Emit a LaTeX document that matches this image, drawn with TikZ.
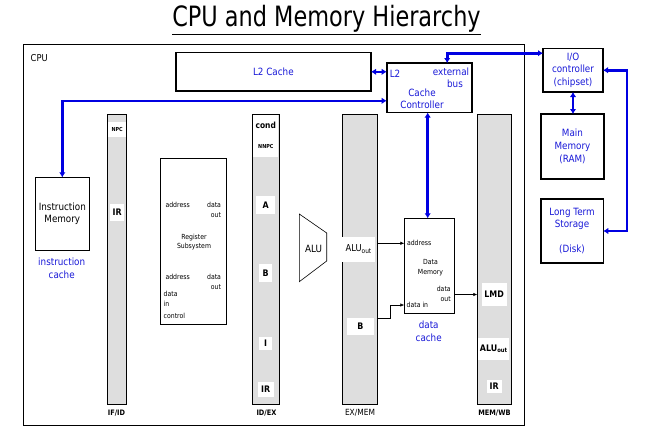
\documentclass[tikz,border=0pt]{standalone}
\usepackage{fontspec}
\setmainfont[FakeStretch=0.88]{DejaVu Sans}
\newfontfamily\titlefont[FakeStretch=0.8]{DejaVu Sans}
\usetikzlibrary{positioning, arrows.meta, calc}
\definecolor{BusBlue}{RGB}{0,0,225}
\definecolor{LabelBlue}{RGB}{25,25,215}
\definecolor{RegGray}{RGB}{222,222,222}

\begin{document}
\begin{tikzpicture}[x=1pt, y=-1pt,
  every node/.style={inner sep=0pt, outer sep=0pt},
  bigbox/.style={draw, line width=1.6pt},
  thinbox/.style={draw, line width=0.7pt},
  pipereg/.style={draw, line width=0.6pt, fill=RegGray, minimum width=#1, minimum height=290pt},
  slot/.style={fill=white},
  bus/.style={draw=BusBlue, line width=2.6pt, {Latex[length=5pt,width=6.5pt]}-{Latex[length=5pt,width=6.5pt]}},
  wire/.style={line width=0.6pt, -{Latex[length=4pt,width=3.5pt]}},
  bluetxt/.style={text=LabelBlue, font=\fontsize{10}{12.7}\selectfont, align=center},
  smalltxt/.style={font=\fontsize{7}{9.5}\selectfont},
  regname/.style={font=\fontsize{9}{10}\selectfont\bfseries},
  tinyname/.style={font=\fontsize{5.5}{6}\selectfont\bfseries},
  stagetxt/.style={font=\fontsize{7.5}{8}\selectfont\bfseries}
]
\useasboundingbox (0,0) rectangle (649,431);

% title
\node[anchor=base, font=\titlefont\fontsize{28}{30}\selectfont] (title) at (326.5,27) {\underline{CPU and Memory Hierarchy}};

% CPU frame
\node[draw, line width=0.8pt, minimum width=500.7pt, minimum height=381pt] (cpu) at (273.7,234.5) {};
\node[anchor=west, font=\fontsize{9.5}{10}\selectfont] (cpulbl) at (30.7,58.5) {CPU};

% caches and controllers
\node[bigbox, minimum width=195.3pt, minimum height=38.5pt, bluetxt] (l2) at (273.4,71.8) {L2 Cache};
\node[bigbox, minimum width=85pt, minimum height=49.5pt] (cc) at (429.2,87.8) {};
\node[bluetxt] (ccl2) at (395,73.3) {L2};
\node[bluetxt] (ccext) at (451,72) {external};
\node[bluetxt] (ccbus) at (455,84) {bus};
\node[bluetxt] (ccname) at (422,98.8) {Cache\\Controller};

% outside the CPU
\node[bigbox, minimum width=60pt, minimum height=43.7pt, bluetxt] (io) at (573,70.2) {I/O\\controller\\(chipset)};
\node[bigbox, minimum width=63pt, minimum height=65pt, bluetxt] (mm) at (572.5,146.5) {Main\\Memory\\(RAM)};
\node[bigbox, minimum width=62.6pt, minimum height=64pt, bluetxt] (lts) at (572,231) {Long Term\\Storage\\[12.5pt](Disk)};

% instruction memory
\node[thinbox, minimum width=54pt, minimum height=72.7pt, align=center, font=\fontsize{10}{12}\selectfont] (imem) at (62.3,213.7) {Instruction\\Memory};
\node[bluetxt] (icache) at (61.7,268.3) {instruction\\cache};

% pipeline registers
\node[pipereg=19.2pt] (ifid) at (117.1,259) {};
\node[pipereg=27pt] (idex) at (265.8,259) {};
\node[pipereg=35pt] (exmem) at (359.8,259) {};
\node[pipereg=34.4pt] (memwb) at (494.5,259) {};
\node[stagetxt] (ifidlbl) at (116.5,412.7) {IF/ID};
\node[stagetxt] (idexlbl) at (266.5,412.7) {ID/EX};
\node[font=\fontsize{8.5}{9}\selectfont] (exmemlbl) at (360,412.7) {EX/MEM};
\node[stagetxt] (memwblbl) at (494.5,412.7) {MEM/WB};

% IF/ID fields
\node[slot, tinyname, minimum width=18pt, minimum height=15pt] (npc) at (117.1,129.2) {NPC};
\node[slot, regname, minimum width=14pt, minimum height=17pt] (irif) at (117.1,212) {IR};

% ID/EX fields
\node[slot, font=\fontsize{8.5}{9}\selectfont\bfseries, minimum width=25pt, minimum height=21pt] (cond) at (265.8,125.5) {cond};
\node[slot, tinyname, minimum width=25pt, minimum height=22pt] (nnpc) at (265.8,146) {NNPC};
\node[slot, regname, minimum width=19pt, minimum height=18pt] (aid) at (265.6,205.2) {A};
\node[slot, regname, minimum width=13pt, minimum height=18pt] (bid) at (265.6,273.3) {B};
\node[slot, regname, minimum width=13pt, minimum height=13pt] (iid) at (265.6,343.5) {I};
\node[slot, regname, minimum width=16pt, minimum height=15pt] (irid) at (265.6,389.5) {IR};

% register subsystem
\node[thinbox, minimum width=66.4pt, minimum height=165.7pt] (regs) at (193.5,241.2) {};
\node[smalltxt, anchor=west] (rsaddr1) at (165.5,205.3) {address};
\node[smalltxt, anchor=east, align=right] (rsout1) at (221,210) {data\\out};
\node[smalltxt, align=center] (rsname) at (194,242) {Register\\Subsystem};
\node[smalltxt, anchor=west] (rsaddr2) at (165.5,277.3) {address};
\node[smalltxt, anchor=east, align=right] (rsout2) at (221,282) {data\\out};
\node[smalltxt, anchor=west] (rsdin1) at (163.7,294.3) {data};
\node[smalltxt, anchor=west] (rsdin2) at (163.7,304) {in};
\node[smalltxt, anchor=west] (rsctl) at (163.7,316.3) {control};

% ALU
\draw[line width=0.6pt] (299.3,214) -- (326.7,233) -- (326.7,261) -- (299.3,281.7) -- cycle;
\node[font=\fontsize{10}{11}\selectfont] (alu) at (313.5,248.5) {ALU};

% EX/MEM fields
\node[slot, font=\fontsize{9.5}{10}\selectfont, minimum width=32.7pt, minimum height=25pt] (aluex) at (358.7,249.2) {ALU\textsubscript{out}};
\node[slot, regname, minimum width=27pt, minimum height=17pt] (bex) at (360.5,326.5) {B};

% data memory
\node[thinbox, minimum width=50pt, minimum height=95pt] (dmem) at (429.3,265.8) {};
\node[smalltxt, anchor=west] (dmaddr) at (407,243.3) {address};
\node[smalltxt, align=center] (dmname) at (430.5,267.5) {Data\\Memory};
\node[smalltxt, anchor=east, align=right] (dmout) at (450.7,294) {data\\out};
\node[smalltxt, anchor=west] (dmdin) at (406.7,305) {data in};
\node[bluetxt] (dcache) at (428.7,331.2) {data\\cache};

% MEM/WB fields
\node[slot, regname, minimum width=25pt, minimum height=22.4pt] (lmd) at (494.2,294.5) {LMD};
\node[slot, font=\fontsize{9}{10}\selectfont\bfseries, minimum width=31pt, minimum height=21.7pt] (aluwb) at (493.8,349.2) {ALU\textsubscript{out}};
\node[slot, regname, minimum width=15pt, minimum height=13pt] (irwb) at (494.2,386.7) {IR};

% buses
\draw[bus] (l2.east) -- (l2.east -| cc.west);
\draw[bus] (imem.north) |- ([yshift=-13pt]cc.west);
\draw[bus] ([xshift=18pt]cc.north) |- ([yshift=17pt]io.west);
\draw[bus] (io.south) -- (io.south |- mm.north);
\draw[bus] (io.east) -- ++(24,0) |- (lts.east);
\draw[bus] ([xshift=-1.5pt]cc.south) -- ([xshift=-1.5pt]cc.south |- dmem.north);

% data paths
\draw[wire] (exmem.east |- dmaddr) -- (dmem.west |- dmaddr);
\draw[wire] (exmem.east |- bex.north) -- ++(12.7,0) |- (dmem.west |- dmdin);
\draw[wire] (dmem.east |- lmd) -- (memwb.west |- lmd);
\end{tikzpicture}
\end{document}
